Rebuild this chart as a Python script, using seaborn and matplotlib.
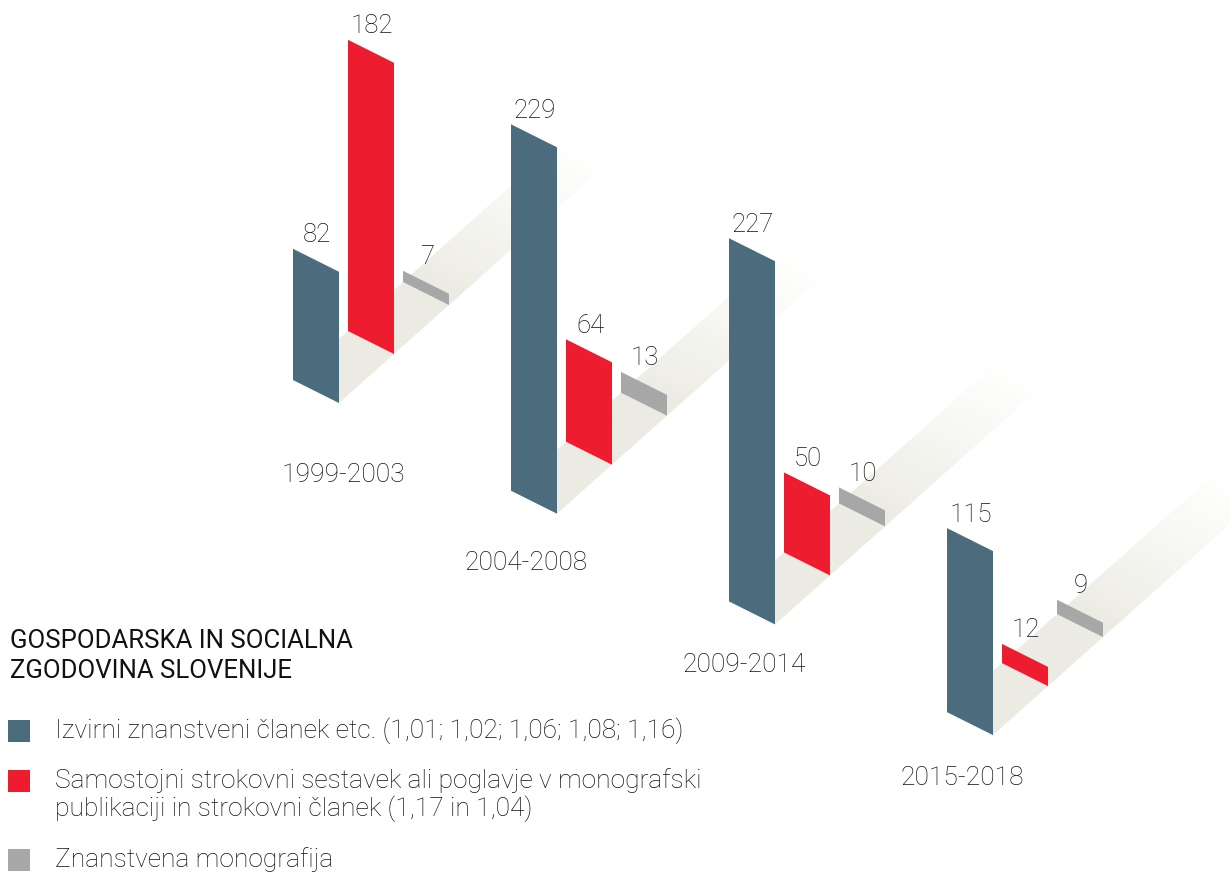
import numpy as np
import pandas as pd
import matplotlib
matplotlib.use("Agg")
import matplotlib.pyplot as plt
import matplotlib.transforms as mtransforms
from matplotlib.patches import Polygon, Rectangle
import seaborn as sns

# data
periods = ["1999-2003", "2004-2008", "2009-2014", "2015-2018"]
izvirni = [82, 229, 227, 115]
strokovni = [182, 64, 50, 12]
monografija = [7, 13, 10, 9]
type_names = ["Izvirni znanstveni članek etc. (1,01; 1,02; 1,06; 1,08; 1,16)",
              "Samostojni strokovni sestavek ali poglavje v monografski\npublikaciji in strokovni članek (1,17 in 1,04)",
              "Znanstvena monografija"]
title = "GOSPODARSKA IN SOCIALNA\nZGODOVINA SLOVENIJE"
colors = ["#4a6c7c", "#ed1c2e", "#a6a7a7"]
floor_color = np.array([0.925, 0.922, 0.890])

# layout (pixels, y down)
W, H = 1230, 877
PX = 1.6                      # pixels per unit of value
x0, y0 = 293, 380             # first group, first bar, bottom-left corner
gx, gy = 218, 110.7           # step between groups
sx, sy = 55, -49              # step between bars inside a group
ex, ey = 46, 23               # bottom edge of a bar
band_len = 4.9                # floor length in bar steps
shear = ey / ex

def to_data(xp, yp):
    return xp, (H - yp) / PX

sns.set_theme(style="white")
plt.rcParams["font.family"] = ["Roboto", "DejaVu Sans"]
txt_color = "#111111"

rows = []
for g, per in enumerate(periods):
    for k, (name, vals) in enumerate(zip(type_names, [izvirni, strokovni, monografija])):
        bx = x0 + g * gx + k * sx
        by = y0 + g * gy + k * sy
        rows.append(dict(period=per, type=name, value=vals[g], slot=k, group=g,
                         xc=bx + ex / 2, bl_x=bx, bl_y=by))
df = pd.DataFrame(rows)
# unsheared bottom for each bar (data units)
df["bottom"] = (H - df["bl_y"]) / PX + shear * df["bl_x"] / PX

fig = plt.figure(figsize=(W / 100, H / 100), dpi=100)
ax = fig.add_axes([0, 0, 1, 1])

sns.barplot(data=df, x="xc", y="value", hue="type", hue_order=type_names,
            palette=colors, native_scale=True, dodge=False, width=ex / sx,
            errorbar=None, saturation=1, legend=False, ax=ax, zorder=3)

skew = mtransforms.Affine2D(np.array([[1, 0, 0], [-shear / PX, 1, 0], [0, 0, 1]]))
for p in ax.patches:
    c = p.get_x() + p.get_width() / 2
    i = int(np.argmin(np.abs(df["xc"].values - c)))
    p.set_y(df["bottom"].iloc[i])
    p.set_linewidth(0)
    p.set_transform(skew + ax.transData)

# floor bands with fade
n = 90
for g in range(len(periods)):
    px0, py0 = x0 + g * gx, y0 + g * gy
    ts = np.linspace(0, band_len, n + 1)
    for a, b in zip(ts[:-1], ts[1:]):
        fade = np.clip((a - 2.2) / (band_len - 2.2), 0, 1) ** 0.9
        col = floor_color * (1 - fade) + fade
        pts = [(px0 + a * sx, py0 + a * sy), (px0 + b * sx + 0.3, py0 + b * sy - 0.3),
               (px0 + ex + b * sx + 0.3, py0 + ey + b * sy - 0.3), (px0 + ex + a * sx, py0 + ey + a * sy)]
        ax.add_patch(Polygon([to_data(*q) for q in pts], closed=True, fc=col, ec="none", zorder=1))

# value labels
for _, r in df.iterrows():
    tx = r["bl_x"] + ex / 2 + 1
    ty = r["bl_y"] + ey / 2 - r["value"] * PX - 25
    ax.text(*to_data(tx, ty), str(r["value"]), ha="center", va="center",
            fontsize=18.5, fontweight="light", color=txt_color, zorder=5)

# period labels
label_nudge = [(35, 29), (0, 6), (0, -2), (0, 0)]
for g, per in enumerate(periods):
    tx = x0 + g * gx + 15 + label_nudge[g][0]
    ty = y0 + g * gy + 66 + label_nudge[g][1]
    ax.text(*to_data(tx, ty), per, ha="center", va="center",
            fontsize=19, fontweight="light", color=txt_color)

# title + legend
ax.text(*to_data(10, 656), title, ha="left", va="center", fontsize=18.5,
        linespacing=1.35, color=txt_color)
leg_y = [731, 795, 860]
for k, name in enumerate(type_names):
    sq_x, sq_y = to_data(8, leg_y[k] if k != 1 else 781)
    ax.add_patch(Rectangle((sq_x, sq_y - 11 / PX), 22, 22 / PX, fc=colors[k], ec="none"))
    ax.text(*to_data(55, leg_y[k]), name, ha="left", va="center", fontsize=19,
            fontweight="light", linespacing=1.1, color=txt_color)

ax.set_xlim(0, W)
ax.set_ylim(0, H / PX)
ax.set_axis_off()
fig.savefig("out.png", dpi=100)
